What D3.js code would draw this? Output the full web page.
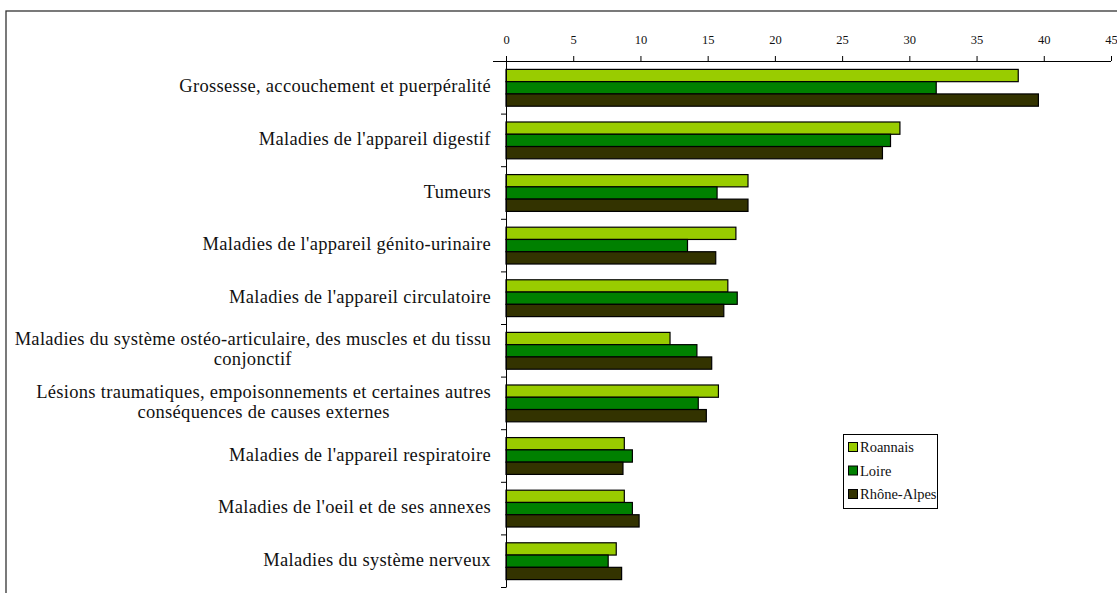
<!DOCTYPE html>
<html><head><meta charset="utf-8">
<script src="https://cdn.jsdelivr.net/npm/d3@7"></script>
<style>
html,body{margin:0;padding:0;background:#fff;overflow:hidden;}
svg{display:block;}
</style></head>
<body>
<svg id="chart" width="1117" height="593"></svg>
<script>
const categories = [
  ["Grossesse, accouchement et puerpéralité"],
  ["Maladies de l'appareil digestif"],
  ["Tumeurs"],
  ["Maladies de l'appareil génito-urinaire"],
  ["Maladies de l'appareil circulatoire"],
  ["Maladies du système ostéo-articulaire, des muscles et du tissu","conjonctif"],
  ["Lésions traumatiques, empoisonnements et certaines autres","conséquences de causes externes"],
  ["Maladies de l'appareil respiratoire"],
  ["Maladies de l'oeil et de ses annexes"],
  ["Maladies du système nerveux"]
];
const seriesNames = ["Roannais","Loire","Rhône-Alpes"];
const roannais   = [38.1, 29.3, 18.0, 17.1, 16.5, 12.2, 15.8, 8.8, 8.8, 8.2];
const loire      = [32.0, 28.6, 15.7, 13.5, 17.2, 14.2, 14.3, 9.4, 9.4, 7.6];
const rhoneAlpes = [39.6, 28.0, 18.0, 15.6, 16.2, 15.3, 14.9, 8.7, 9.9, 8.6];
const xTicks = [0,5,10,15,20,25,30,35,40,45];
const colors = ["#99CC00","#008000","#333300"];

const FONT = "Liberation Serif";
const series = [roannais, loire, rhoneAlpes];
const svg = d3.select("#chart");

// outer frame
svg.append("rect").attr("x",6).attr("y",11).attr("width",1200).attr("height",700)
  .attr("fill","none").attr("stroke","#333").attr("stroke-width",1.3);

const plotTop = 61, plotBottom = 587, plotLeft = 506;
const x = d3.scaleLinear().domain([0,45]).range([plotLeft, 1111]);
const keys = categories.map((c,i)=>i);
const y0 = d3.scaleBand().domain(keys).range([plotTop,plotBottom]).paddingInner(0.3).paddingOuter(0.15);
const y1 = d3.scaleBand().domain([0,1,2]).range([0,y0.bandwidth()]);
const yb = d3.scaleLinear().domain([0,categories.length]).range([plotTop,plotBottom]);

// bars
const g = svg.append("g");
keys.forEach(i=>{
  series.forEach((s,j)=>{
    g.append("rect")
      .attr("x", x(0)).attr("y", y0(i)+y1(j)+0.5)
      .attr("width", x(s[i])-x(0)).attr("height", y1.bandwidth())
      .attr("fill", colors[j]).attr("stroke","#000").attr("stroke-width",1.2);
  });
});

// x axis (top)
const xAxis = svg.append("g").attr("transform",`translate(0,${plotTop})`)
  .call(d3.axisTop(x).tickValues(xTicks).tickSize(5).tickSizeOuter(0).tickPadding(12));
xAxis.attr("font-family",FONT).attr("font-size",12.5);
xAxis.select(".domain").attr("d",`M${plotLeft-13},0.5H${x(45)}`).attr("stroke","#000");
xAxis.selectAll(".tick line").attr("stroke","#000");
xAxis.selectAll("text").attr("fill","#111");

// y axis (category boundaries)
const yAxis = svg.append("g").attr("transform",`translate(${plotLeft},0)`)
  .call(d3.axisLeft(yb).tickValues(d3.range(0,categories.length+1)).tickSize(5).tickSizeOuter(0).tickFormat(""));
yAxis.select(".domain").attr("stroke","#000");
yAxis.selectAll(".tick line").attr("stroke","#000");

// category labels
keys.forEach(i=>{
  const lines = categories[i];
  const cy = y0(i) + y0.bandwidth()/2;
  const lh = 20;
  const t = svg.append("text").attr("text-anchor","middle")
    .attr("font-family",FONT).attr("font-size",18.5).attr("letter-spacing",0.3).attr("fill","#111");
  lines.forEach((ln,k)=>{
    t.append("tspan").attr("x",0).attr("y", cy + (k-(lines.length-1)/2)*lh + 5).text(ln);
  });
  const bb = t.node().getBBox();
  t.attr("transform",`translate(${491 - bb.width/2},0)`);
});

// legend
const lg = svg.append("g");
lg.append("rect").attr("x",843.5).attr("y",434.5).attr("width",94).attr("height",74)
  .attr("fill","#fff").attr("stroke","#000").attr("stroke-width",1);
seriesNames.forEach((n,j)=>{
  const cy = 447 + j*23.5;
  lg.append("rect").attr("x",848.5).attr("y",cy-4.5).attr("width",9).attr("height",9)
    .attr("fill",colors[j]).attr("stroke","#000");
  lg.append("text").attr("x",860).attr("y",cy+5).attr("font-family",FONT)
    .attr("font-size",14.5).attr("fill","#111").text(n);
});
</script>
</body></html>
